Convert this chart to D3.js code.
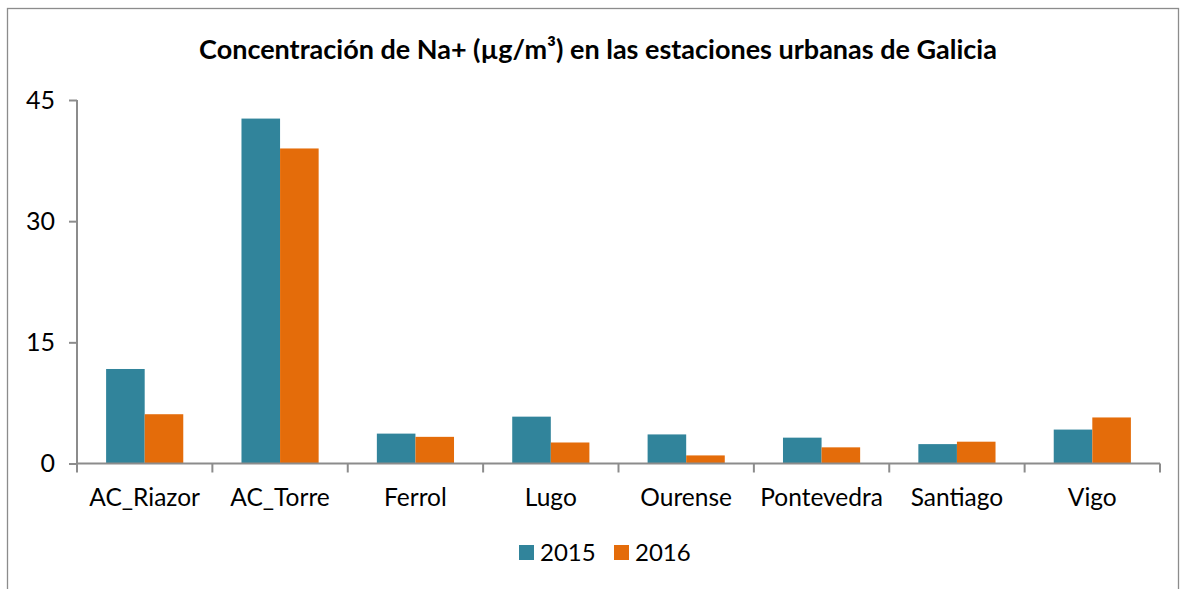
<!DOCTYPE html>
<html>
<head>
<meta charset="utf-8">
<script src="https://cdn.jsdelivr.net/npm/d3@7"></script>
<style>
  body { margin: 0; background: #fff; }
  text { font-family: Lato, "Open Sans", sans-serif; fill: #000; }
</style>
</head>
<body>
<script>
/*** data ***/
const stations = ["AC_Riazor", "AC_Torre", "Ferrol", "Lugo", "Ourense", "Pontevedra", "Santiago", "Vigo"];
const years = ["2015", "2016"];
const values2015 = [11.7, 42.7, 3.7, 5.8, 3.6, 3.2, 2.4, 4.2];
const values2016 = [6.1, 39.0, 3.3, 2.6, 1.0, 2.0, 2.7, 5.7];
const yTicks = [0, 15, 30, 45];
const colors = ["#31849b", "#e46c0a"];

const width = 1186, height = 589;
const margin = { left: 77, right: 26, top: 100, bottom: 125.5 };

const svg = d3.select("body").append("svg")
  .attr("width", width)
  .attr("height", height);

// outer frame (cut off at the bottom like the original)
svg.append("rect")
  .attr("x", 7.5).attr("y", 8.5)
  .attr("width", 1171).attr("height", 600)
  .attr("fill", "none")
  .attr("stroke", "#8c8c8c")
  .attr("stroke-width", 1.3);

svg.append("text")
  .attr("x", 598).attr("y", 59)
  .attr("text-anchor", "middle")
  .attr("font-size", 27)
  .attr("font-weight", "bold")
  .text("Concentración de Na+ (µg/m³) en las estaciones urbanas de Galicia");

const x0 = d3.scaleBand()
  .domain(stations)
  .range([margin.left, width - margin.right]);

const groupW = x0.bandwidth() * 0.57;
const x1 = d3.scaleBand()
  .domain(years)
  .range([0, groupW]);

const y = d3.scaleLinear()
  .domain([0, 45])
  .range([height - margin.bottom, margin.top]);

const rows = stations.map((s, i) => ({ station: s, vals: [values2015[i], values2016[i]] }));

// bars
svg.append("g")
  .selectAll("g")
  .data(rows)
  .join("g")
  .attr("transform", d => `translate(${x0(d.station) + (x0.bandwidth() - groupW) / 2},0)`)
  .selectAll("rect")
  .data(d => d.vals.map((v, j) => ({ year: years[j], v, j })))
  .join("rect")
  .attr("x", d => x1(d.year))
  .attr("width", x1.bandwidth())
  .attr("y", d => y(d.v))
  .attr("height", d => y(0) - y(d.v))
  .attr("fill", d => colors[d.j]);

// y axis
const yAxis = svg.append("g")
  .attr("transform", `translate(${margin.left},0)`)
  .call(d3.axisLeft(y).tickValues(yTicks).tickSize(8).tickPadding(14));
yAxis.selectAll("path, line").attr("stroke", "#8c8c8c").attr("stroke-width", 2);
yAxis.select(".domain").attr("d", `M0,${y(45)}V${y(0)}`);
yAxis.selectAll("text").attr("font-size", 25).attr("font-family", "Lato, sans-serif");

// x axis with ticks at category boundaries
const xg = svg.append("g");
xg.append("line")
  .attr("x1", margin.left).attr("x2", width - margin.right)
  .attr("y1", y(0)).attr("y2", y(0))
  .attr("stroke", "#8c8c8c").attr("stroke-width", 2);
const bounds = stations.map(s => x0(s)).concat([x0.range()[1]]);
xg.selectAll("line.tick")
  .data(bounds)
  .join("line")
  .attr("class", "tick")
  .attr("x1", d => d).attr("x2", d => d)
  .attr("y1", y(0)).attr("y2", y(0) + 9)
  .attr("stroke", "#8c8c8c").attr("stroke-width", 2);
xg.selectAll("text")
  .data(stations)
  .join("text")
  .attr("x", d => x0(d) + x0.bandwidth() / 2)
  .attr("y", 506)
  .attr("text-anchor", "middle")
  .attr("font-size", 24.5)
  .text(d => d);

// legend
const legendX = [519, 614];
const lg = svg.append("g")
  .selectAll("g")
  .data(years)
  .join("g")
  .attr("transform", (d, i) => `translate(${legendX[i]},545)`);
lg.append("rect")
  .attr("width", 15).attr("height", 15)
  .attr("fill", (d, i) => colors[i]);
lg.append("text")
  .attr("x", 21).attr("y", 16)
  .attr("font-size", 24)
  .text(d => d);
</script>
</body>
</html>
